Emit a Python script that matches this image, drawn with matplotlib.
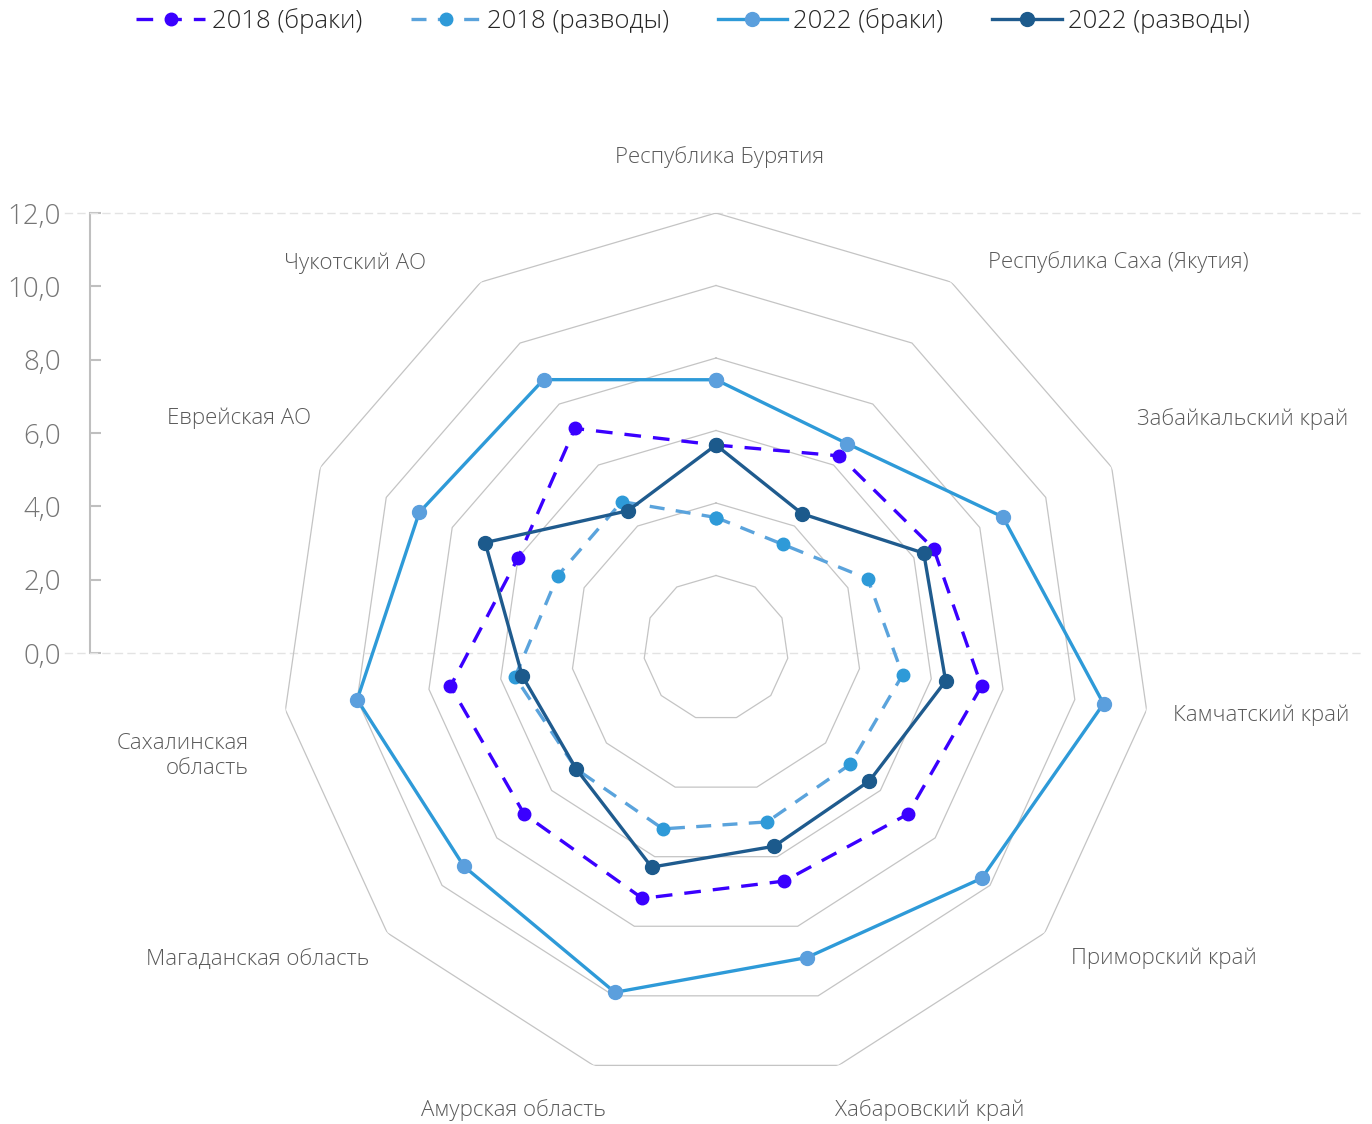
import numpy as np
import matplotlib
matplotlib.use("Agg")
import matplotlib.pyplot as plt
from matplotlib.ticker import FuncFormatter

plt.rcParams['font.family'] = ['Open Sans', 'DejaVu Sans']
plt.rcParams['font.weight'] = 'light'

regions = ["Республика Бурятия", "Республика Саха (Якутия)", "Забайкальский край",
           "Камчатский край", "Приморский край", "Хабаровский край",
           "Амурская область", "Магаданская область", "Сахалинская\nобласть",
           "Еврейская АО", "Чукотский АО"]

marriages_2018 = [5.6, 6.3, 6.6, 7.4, 7.0, 6.7, 7.2, 7.0, 7.4, 6.0, 7.2]
divorces_2018 = [3.6, 3.4, 4.6, 5.2, 4.9, 5.0, 5.2, 5.1, 5.6, 4.8, 4.8]
marriages_2022 = [7.4, 6.7, 8.7, 10.8, 9.7, 8.9, 9.9, 9.2, 10.0, 9.0, 8.8]
divorces_2022 = [5.6, 4.4, 6.3, 6.4, 5.6, 5.7, 6.3, 5.1, 5.4, 7.0, 4.5]

ticks = [0, 2, 4, 6, 8, 10, 12]

W, H = 1372, 1124
fig = plt.figure(figsize=(W / 100, H / 100), dpi=100)

# left value axis with faint dashed borders
cx, cy, R = 716, 648, 435
axl = fig.add_axes([65 / W, (H - 653) / H, (1360 - 65) / W, 440 / H])
axl.set_ylim(0, 12)
axl.set_xlim(0, 1)
axl.set_yticks(ticks)
axl.yaxis.set_major_formatter(FuncFormatter(lambda v, p: f"{v:.1f}".replace(".", ",")))
axl.set_xticks([])
axl.patch.set_alpha(0)
for s in ['top', 'bottom']:
    axl.spines[s].set_linestyle((0, (5, 4)))
    axl.spines[s].set_color('#E3E3E3')
    axl.spines[s].set_linewidth(1.0)
axl.spines['right'].set_visible(False)
axl.spines['left'].set_position(('axes', 25 / (1360 - 65)))
axl.spines['left'].set_color('#BFBFBF')
axl.spines['left'].set_linewidth(1.5)
axl.tick_params(axis='y', direction='in', length=8, width=1.5, color='#BFBFBF',
                labelsize=20, labelcolor='#757575', pad=21)

# radar
ax = fig.add_axes([(cx - R) / W, (H - cy - R) / H, 2 * R / W, 2 * R / H], projection='polar')
ax.set_theta_offset(np.pi / 2)
ax.set_theta_direction(-1)
ax.set_ylim(0, 12)
ax.axis('off')

n = len(regions)
theta = np.linspace(0, 2 * np.pi, n, endpoint=False)
theta_c = np.append(theta, theta[0])

for r in ticks[1:]:
    ax.plot(theta_c, [r] * (n + 1), color='#C4C4C4', lw=0.9, zorder=1)


def closed(v):
    return list(v) + [v[0]]


l1, = ax.plot(theta_c, closed(marriages_2018), color='#3A00FF', lw=2.4, ls=(0, (5, 3.6)),
              marker='o', ms=9, mfc='#3A00FF', mec='#3A00FF', label='2018 (браки)', zorder=3)
l2, = ax.plot(theta_c, closed(divorces_2018), color='#5AA3DC', lw=2.4, ls=(0, (4.5, 3.4)),
              marker='o', ms=9, mfc='#2E9AD8', mec='#2E9AD8', label='2018 (разводы)', zorder=3)
l3, = ax.plot(theta_c, closed(marriages_2022), color='#2E9AD8', lw=2.4,
              marker='o', ms=10, mfc='#5B9FDD', mec='#5B9FDD', label='2022 (браки)', zorder=4)
l4, = ax.plot(theta_c, closed(divorces_2022), color='#1F5B8E', lw=2.4,
              marker='o', ms=10, mfc='#1C5A8C', mec='#1C5A8C', label='2022 (разводы)', zorder=5)

# category labels, offsets in pixels from the outer ring vertex
offsets = [(4, 56, 'center'), (37, 20, 'left'), (25, 48, 'left'), (26, -5, 'left'),
           (26, -25, 'left'), (-4, -45, 'left'), (12, -45, 'right'), (-18, -27, 'right'),
           (-37, -46, 'right'), (-9, 49, 'right'), (-55, 19, 'right')]
for t, name, (dx, dy, ha) in zip(theta, regions, offsets):
    ax.annotate(name, xy=(t, 12), xytext=(dx, dy), textcoords='offset pixels',
                ha=ha, va='center', fontsize=16, color='#595959',
                multialignment='right', annotation_clip=False)

fig.legend(handles=[l1, l2, l3, l4], loc='center', bbox_to_anchor=(693 / W, 1 - 21 / H),
           ncol=4, frameon=False, fontsize=18.5, handlelength=2.7, columnspacing=1.9,
           handletextpad=0.25, labelcolor='#262626')

fig.savefig('out.png', dpi=100)
